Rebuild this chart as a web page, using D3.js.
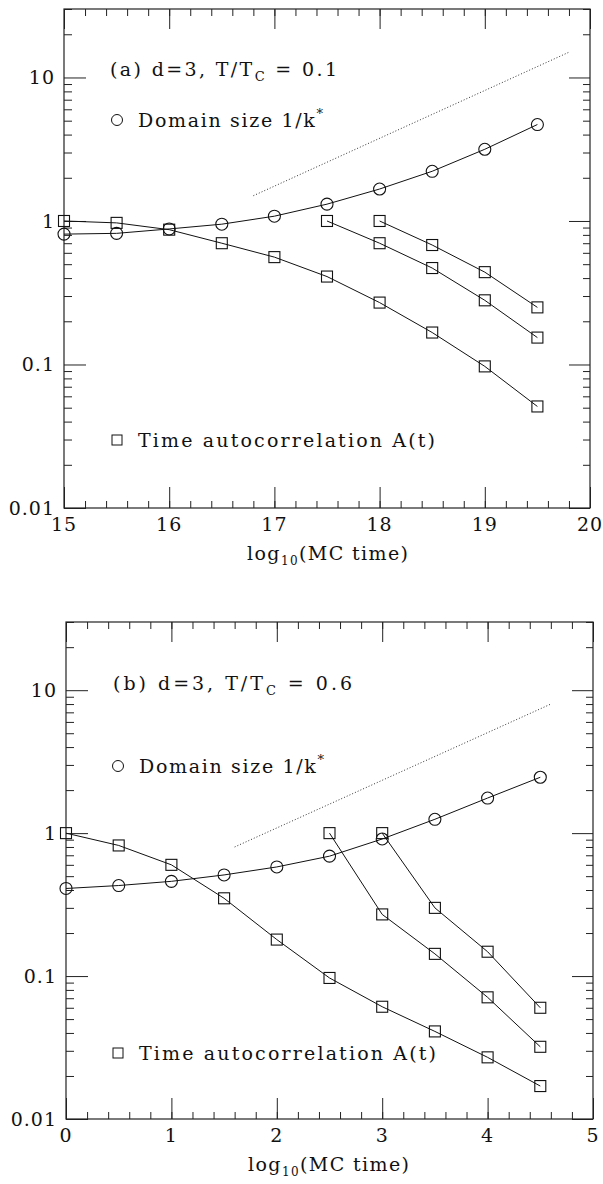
<!DOCTYPE html>
<html>
<head>
<meta charset="utf-8">
<script src="https://cdn.jsdelivr.net/npm/d3@7"></script>
<style>
  body { margin: 0; background: #fff; }
</style>
</head>
<body>
<div id="main_div"></div>
<script>
// panel (a): d=3, T/Tc = 0.1
var xA = [15, 15.5, 16, 16.5, 17, 17.5, 18, 18.5, 19, 19.5];
var domainA = [0.81, 0.82, 0.88, 0.95, 1.08, 1.31, 1.67, 2.22, 3.16, 4.7];
var autoA1 = [1.0, 0.97, 0.87, 0.70, 0.56, 0.41, 0.27, 0.167, 0.097, 0.051];
var xA2 = [17.5, 18, 18.5, 19, 19.5];
var autoA2 = [1.0, 0.70, 0.47, 0.28, 0.154];
var xA3 = [18, 18.5, 19, 19.5];
var autoA3 = [1.0, 0.68, 0.44, 0.25];
var slopeA = [[16.8, 1.5], [19.8, 15]];
var xTicksA = [15, 16, 17, 18, 19, 20];

// panel (b): d=3, T/Tc = 0.6
var xB = [0, 0.5, 1, 1.5, 2, 2.5, 3, 3.5, 4, 4.5];
var domainB = [0.41, 0.43, 0.46, 0.51, 0.58, 0.69, 0.91, 1.25, 1.76, 2.46];
var autoB1 = [1.0, 0.82, 0.60, 0.35, 0.18, 0.097, 0.061, 0.041, 0.027, 0.017];
var xB2 = [2.5, 3, 3.5, 4, 4.5];
var autoB2 = [1.0, 0.27, 0.143, 0.071, 0.032];
var xB3 = [3, 3.5, 4, 4.5];
var autoB3 = [1.0, 0.30, 0.148, 0.060];
var slopeB = [[1.6, 0.8], [4.6, 8.0]];
var xTicksB = [0, 1, 2, 3, 4, 5];

var yTicks = [0.01, 0.1, 1, 10];
var yLabels = ["0.01", "0.1", "1", "10"];

var FONT = "'DejaVu Serif', 'Liberation Serif', serif";

var svg = d3.select("#main_div").append("svg").attr("width", 603).attr("height", 1184)
    .style("font-family", FONT);

function minorY(lo, hi) {
    var out = [];
    for (var e = -2; e <= 1; e++) {
        for (var m = 2; m <= 9; m++) {
            var v = m * Math.pow(10, e);
            if (v >= lo && v <= hi) out.push(v);
        }
    }
    return out;
}

function txt(g) {
    return g.append("text").style("font-family", FONT).attr("fill", "#111");
}

function drawPanel(p) {
    var x = d3.scaleLinear().domain([p.xTicks[0], p.xTicks[p.xTicks.length - 1]]).range([p.left, p.right]);
    var y = d3.scaleLog().domain([0.01, 30]).range([p.bottom, p.top]);
    var g = svg.append("g");

    var xMinor = d3.range(p.xTicks[0], p.xTicks[p.xTicks.length - 1] + 0.001, 0.2);
    var yMinor = minorY(0.01, 30);
    var none = function() { return ""; };

    // inward ticks on four sides
    var axes = [
        [d3.axisTop(x).tickValues(p.xTicks).tickSize(21), "translate(0," + p.bottom + ")"],
        [d3.axisTop(x).tickValues(xMinor).tickSize(7), "translate(0," + p.bottom + ")"],
        [d3.axisBottom(x).tickValues(p.xTicks).tickSize(20), "translate(0," + p.top + ")"],
        [d3.axisBottom(x).tickValues(xMinor).tickSize(7), "translate(0," + p.top + ")"],
        [d3.axisRight(y).tickValues(yTicks).tickSize(22), "translate(" + p.left + ",0)"],
        [d3.axisRight(y).tickValues(yMinor).tickSize(8), "translate(" + p.left + ",0)"],
        [d3.axisLeft(y).tickValues(yTicks).tickSize(21), "translate(" + p.right + ",0)"],
        [d3.axisLeft(y).tickValues(yMinor).tickSize(7), "translate(" + p.right + ",0)"]
    ];
    axes.forEach(function(a) {
        var ax = g.append("g").attr("transform", a[1]).call(a[0].tickFormat(none));
        ax.select(".domain").remove();
        ax.selectAll("line").attr("stroke", "#222").attr("stroke-width", 1);
    });

    g.append("rect").attr("x", p.left).attr("y", p.top)
        .attr("width", p.right - p.left).attr("height", p.bottom - p.top)
        .attr("fill", "none").attr("stroke", "#222").attr("stroke-width", 1.2);

    // tick labels
    p.xTicks.forEach(function(d) {
        txt(g).attr("x", x(d)).attr("y", p.bottom + 23)
            .attr("text-anchor", "middle").attr("font-size", 19).attr("letter-spacing", 1)
            .text(d);
    });
    yTicks.forEach(function(d, i) {
        txt(g).attr("x", p.left - 9).attr("y", y(d) + 7)
            .attr("text-anchor", "end").attr("font-size", 19).attr("letter-spacing", 1)
            .text(yLabels[i]);
    });

    var xl = txt(g).attr("x", p.xlabX).attr("y", p.bottom + 52)
        .attr("font-size", 19).attr("textLength", 161).attr("lengthAdjust", "spacing");
    xl.append("tspan").text("log");
    xl.append("tspan").attr("font-size", 12).attr("dy", 5).text("10");
    xl.append("tspan").attr("dy", -5).text("(MC time)");

    // curves
    var line = d3.line().x(function(d) { return x(d[0]); }).y(function(d) { return y(d[1]); });
    var zip = function(xs, ys) { return xs.map(function(v, i) { return [v, ys[i]]; }); };

    g.append("path").datum(p.slope).attr("d", line)
        .attr("fill", "none").attr("stroke", "#333").attr("stroke-width", 1).attr("stroke-dasharray", "1,2");

    var circ = zip(p.xs, p.domain);
    var sqs = [zip(p.xs, p.auto1), zip(p.xs2, p.auto2), zip(p.xs3, p.auto3)];
    [circ].concat(sqs).forEach(function(s) {
        g.append("path").datum(s).attr("d", line)
            .attr("fill", "none").attr("stroke", "#111").attr("stroke-width", 1);
    });

    g.selectAll(".c").data(circ).enter().append("circle")
        .attr("cx", function(d) { return x(d[0]); }).attr("cy", function(d) { return y(d[1]); })
        .attr("r", 6).attr("fill", "none").attr("stroke", "#111").attr("stroke-width", 1.1);
    sqs.forEach(function(s) {
        g.selectAll(null).data(s).enter().append("rect")
            .attr("x", function(d) { return x(d[0]) - 5.5; }).attr("y", function(d) { return y(d[1]) - 5.5; })
            .attr("width", 11).attr("height", 11)
            .attr("fill", "none").attr("stroke", "#111").attr("stroke-width", 1.1);
    });

    // annotations
    var t = txt(g).attr("x", p.titleX).attr("y", p.titleY).attr("font-size", 19)
        .attr("textLength", p.titleW).attr("lengthAdjust", "spacing");
    t.append("tspan").text(p.title1);
    t.append("tspan").attr("font-size", 13).attr("dy", 5).text("C");
    t.append("tspan").attr("dy", -5).text(p.title2);

    g.append("circle").attr("cx", p.legX).attr("cy", p.domY - 7).attr("r", 5.5)
        .attr("fill", "none").attr("stroke", "#111").attr("stroke-width", 1);
    var dt = txt(g).attr("x", p.legX + 21).attr("y", p.domY).attr("font-size", 19)
        .attr("textLength", 185).attr("lengthAdjust", "spacing");
    dt.append("tspan").text("Domain size 1/k");
    dt.append("tspan").attr("font-size", 13).attr("dy", -9).text("*");

    g.append("rect").attr("x", p.legX - 5).attr("y", p.autoY - 12).attr("width", 10).attr("height", 10)
        .attr("fill", "none").attr("stroke", "#111").attr("stroke-width", 1);
    txt(g).attr("x", p.legX + 21).attr("y", p.autoY).attr("font-size", 19)
        .attr("textLength", 297).attr("lengthAdjust", "spacing")
        .text("Time autocorrelation A(t)");
}

drawPanel({
    left: 64, right: 590, top: 9, bottom: 508,
    xTicks: xTicksA, xs: xA, domain: domainA, auto1: autoA1,
    xs2: xA2, auto2: autoA2, xs3: xA3, auto3: autoA3, slope: slopeA,
    title1: "(a) d=3, T/T", title2: " = 0.1", titleX: 110, titleY: 76, titleW: 227,
    legX: 117, domY: 127, autoY: 447, xlabX: 247
});

drawPanel({
    left: 66, right: 593, top: 622, bottom: 1119,
    xTicks: xTicksB, xs: xB, domain: domainB, auto1: autoB1,
    xs2: xB2, auto2: autoB2, xs3: xB3, auto3: autoB3, slope: slopeB,
    title1: "(b) d=3,  T/T", title2: " = 0.6", titleX: 113, titleY: 690, titleW: 239,
    legX: 118, domY: 773, autoY: 1060, xlabX: 248
});
</script>
</body>
</html>
